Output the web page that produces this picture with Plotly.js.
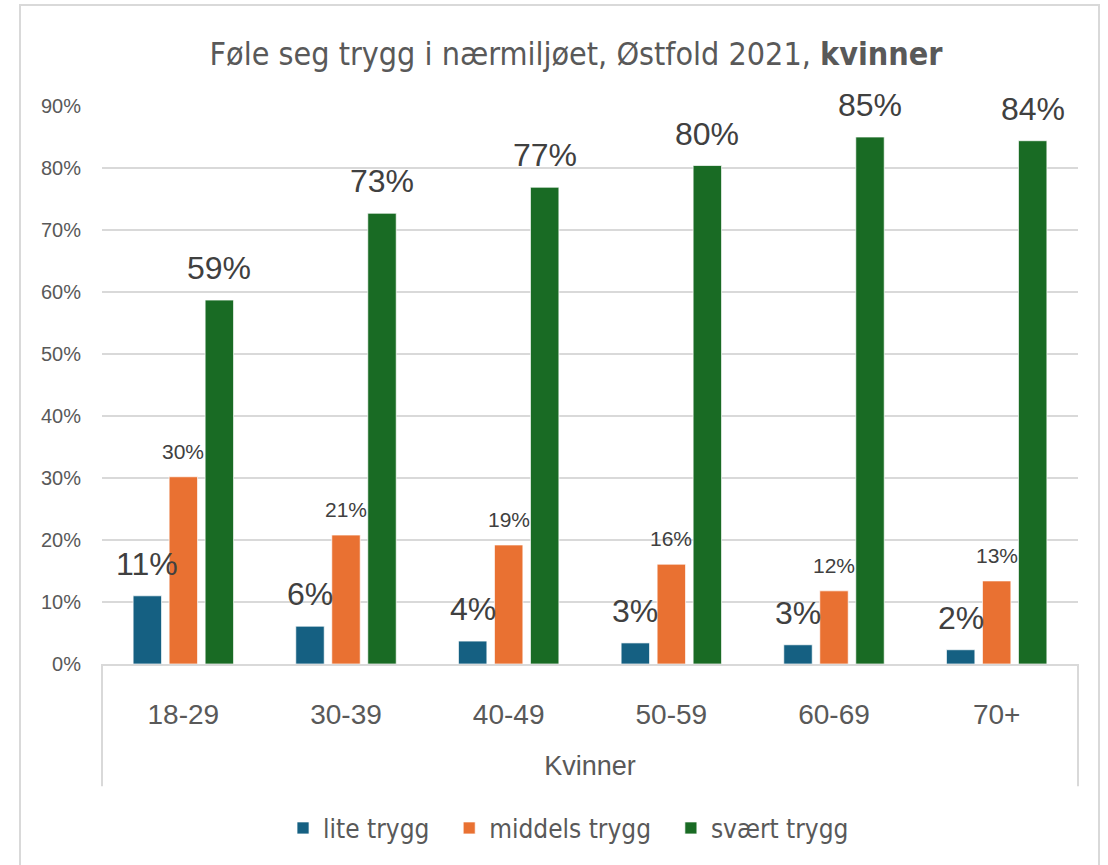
<!DOCTYPE html>
<html>
<head>
<meta charset="utf-8">
<script src="https://cdn.plot.ly/plotly-3.0.1.min.js"></script>
<style>
html,body{margin:0;padding:0;background:#fff;}
#chart{width:1108px;height:865px;}
</style>
</head>
<body>
<div id="chart"></div>
<script>
const categories = ["18-29", "30-39", "40-49", "50-59", "60-69", "70+"];
const liteTrygg = [11.0, 6.1, 3.7, 3.4, 3.1, 2.3];
const middelsTrygg = [30.2, 20.8, 19.2, 16.1, 11.8, 13.4];
const svaertTrygg = [58.7, 72.7, 76.9, 80.4, 85.0, 84.4];
const seriesNames = ["lite trygg", "middels trygg", "svært trygg"];
const yTicks = [0, 10, 20, 30, 40, 50, 60, 70, 80, 90];
const outerLabel = "Kvinner";
const titleMain = "Føle seg trygg i nærmiljøet, Østfold 2021, ";
const titleBold = "kvinner";

const colors = ["#156082", "#E97132", "#196B24"];
const seriesValues = [liteTrygg, middelsTrygg, svaertTrygg];

const traces = seriesValues.map((vals, i) => ({
  type: "bar",
  name: seriesNames[i] + (i < 2 ? "\u00a0\u00a0" : ""),
  x: categories,
  y: vals,
  marker: {color: colors[i], line: {color: "rgba(255,255,255,0.7)", width: 1}},
  hoverinfo: "skip"
}));

const labelSizes = [32, 21, 32];
const xShifts = [-36, 0, 36];
const yShifts = [12, 12, 12];
const annotations = [];
seriesValues.forEach((vals, i) => {
  vals.forEach((v, j) => {
    annotations.push({
      x: categories[j], y: v, xref: "x", yref: "y",
      text: Math.round(v) + "%",
      showarrow: false, xanchor: "center", yanchor: "bottom",
      xshift: xShifts[i], yshift: yShifts[i],
      font: {family: "Liberation Sans, Arial, sans-serif", size: labelSizes[i], color: "#404040"}
    });
  });
});

const layout = {
  width: 1108, height: 865,
  margin: {l: 102, r: 30, t: 106, b: 201},
  paper_bgcolor: "#fff", plot_bgcolor: "#fff",
  showlegend: true,
  bargap: 0.336, bargroupgap: 0.21,
  title: {
    text: titleMain + "<b>" + titleBold + "</b>",
    font: {family: "Liberation Sans Narrow, DejaVu Sans Condensed, Arial Narrow, sans-serif", size: 32, color: "#595959"},
    x: 576 / 1108, xref: "container", xanchor: "center",
    y: 1 - 54 / 865, yref: "container", yanchor: "middle"
  },
  xaxis: {
    type: "category",
    showgrid: false,
    showline: true, linecolor: "#d9d9d9", linewidth: 2,
    ticks: "", ticklabelstandoff: 24,
    tickfont: {family: "Liberation Sans, Arial, sans-serif", size: 28, color: "#595959"},
    title: {text: outerLabel, standoff: 28, font: {family: "Liberation Sans, Arial, sans-serif", size: 27, color: "#595959"}},
    fixedrange: true
  },
  yaxis: {
    range: [0, 90],
    tickvals: yTicks,
    ticktext: yTicks.map(v => v + "%"),
    showgrid: true, gridcolor: "#d9d9d9", gridwidth: 2,
    zeroline: false, showline: false, ticks: "",
    ticklabelstandoff: 20,
    tickfont: {family: "Liberation Sans, Arial, sans-serif", size: 20, color: "#595959"},
    fixedrange: true
  },
  legend: {
    orientation: "h",
    x: 0.478, xanchor: "center",
    y: -0.294, yanchor: "middle",
    font: {family: "Liberation Sans Narrow, DejaVu Sans Condensed, sans-serif", size: 26, color: "#595959"},
    itemwidth: 30, tracegroupgap: 0
  },
  annotations: annotations,
  shapes: [
    {type: "line", xref: "paper", yref: "paper", x0: 0, x1: 0, y0: 0, y1: -0.219, line: {color: "#d9d9d9", width: 2}},
    {type: "line", xref: "paper", yref: "paper", x0: 1, x1: 1, y0: 0, y1: -0.219, line: {color: "#d9d9d9", width: 2}},
    {type: "rect", xref: "paper", yref: "paper", x0: -82/976, x1: 997/976, y0: -210/558, y1: 659/558, line: {color: "#d9d9d9", width: 2}, fillcolor: "rgba(0,0,0,0)", layer: "below"}
  ]
};

Plotly.newPlot("chart", traces, layout, {displayModeBar: false, staticPlot: true});
</script>
</body>
</html>
